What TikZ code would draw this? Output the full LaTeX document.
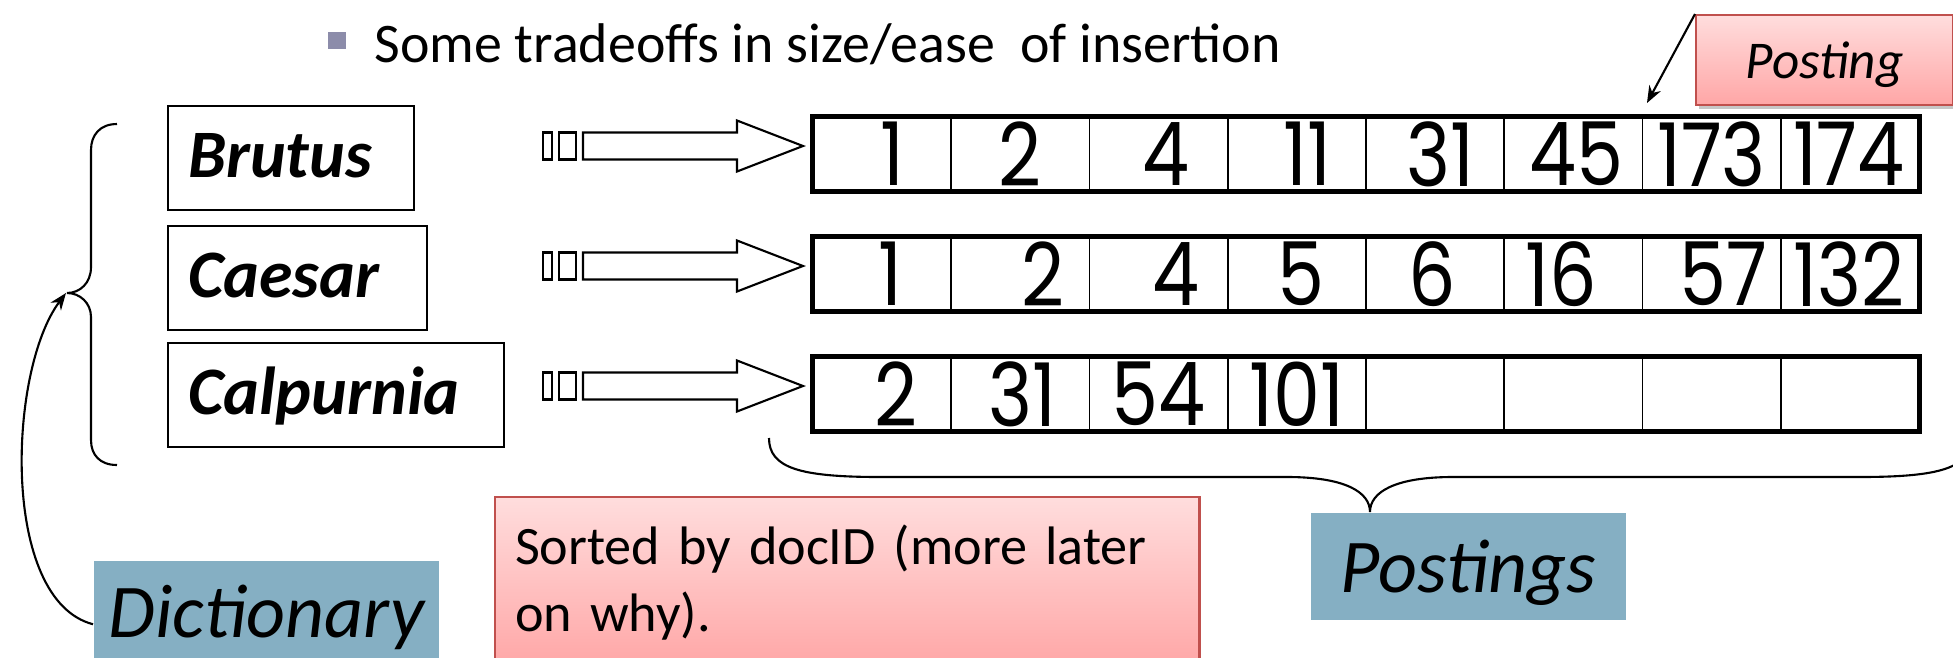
\documentclass[tikz,border=0pt]{standalone}
\usepackage{fontspec}
\setmainfont{Carlito}
\newfontfamily\numfont[FakeStretch=0.85]{Poppins}
\usetikzlibrary{arrows.meta,shadows}

\definecolor{bulletgray}{HTML}{8C8CAA}
\definecolor{labelblue}{HTML}{85AFC3}
\definecolor{notered}{HTML}{C0504D}
\definecolor{notetop}{HTML}{FFDDDD}
\definecolor{notebot}{HTML}{FFA6A6}

\tikzset{
  term/.style={draw, line width=0.6pt, anchor=north west, inner xsep=0.2cm, inner ysep=0pt,
    align=left, text height=0.71cm, text depth=0.33cm, font=\fontsize{19.3}{23}\selectfont\bfseries\itshape},
  cell/.style={draw, line width=0.45pt, minimum width=1.3825cm, minimum height=0.74cm, inner sep=0pt},
  num/.style={inner sep=0pt, font=\numfont\fontsize{25}{26}\selectfont},
  note/.style={draw=notered, line width=0.6pt, top color=notetop, bottom color=notebot},
  tag/.style={fill=labelblue, inner sep=0pt, anchor=north west, font=\fontsize{21.6}{24}\selectfont\itshape},
  ptr/.style={line width=0.6pt, -{Stealth[length=0.17cm, width=0.13cm]}},
  curly/.style={line width=0.6pt},
  hollow/.style={draw, line width=0.6pt, fill=white}
}

% hollow arrow from a term to its postings, #1 = height of its axis
\newcommand{\docarrow}[1]{%
  \draw[hollow] (543,#1-13.5) rectangle (552,#1+13.5);
  \draw[hollow] (559,#1-13.5) rectangle (576,#1+13.5);
  \draw[hollow] (583,#1-13.5) -- (737,#1-13.5) -- (737,#1-25.5) -- (803,#1)
    -- (737,#1+25.5) -- (737,#1+13.5) -- (583,#1+13.5) -- cycle;}

\begin{document}
\begin{tikzpicture}[x=0.01cm, y=-0.01cm]
  \useasboundingbox (0,0) rectangle (1953,657);

  % Heading
  \node[fill=bulletgray, minimum size=0.17cm, inner sep=0pt] (bul) at (337,40) {};
  \node[anchor=base west, inner sep=0pt, font=\fontsize{15.9}{19}\selectfont] (title) at (374,62)
    {Some tradeoffs in size/ease\ \ of insertion};

  % Dictionary terms
  \node[term, text width=2.06cm] (brutus) at (167,105) {Brutus};
  \node[term, text width=2.19cm] (caesar) at (167,225) {Caesar};
  \node[term, text width=2.96cm] (calpurnia) at (167,342) {Calpurnia};

  % Pointers
  \docarrow{146}
  \docarrow{266}
  \docarrow{386}

  % Postings lists
  \foreach \row/\y/\vals in {bp/154/{1/10,2/0,4/7,11/11,31/5,45/3,173/0,174/-1},
                            cp/274/{1/8,2/23,4/17,5/4,6/-3,16/-12,57/12,132/-1},
                            lp/394/{2/14,31/2,54/0,101/0,/0,/0,/0,/0}} {
    \foreach \v/\dx [count=\i] in \vals {
      \node[cell] (\row\i) at ({813+138.25*(\i-0.5)},\y) {};
      \node[num] (v\row\i) at ([xshift=\dx*0.01cm]\row\i.center) {\v};
    }
    \draw[line width=1.5pt] (\row1.north west) rectangle (\row8.south east);
  }

  % Braces
  \draw[curly] (117,124) .. controls (100,124) and (91,135) .. (91,150) -- (91,267)
    .. controls (91,283) and (80,293) .. (67,293) .. controls (80,293) and (91,303) .. (91,317)
    -- (91,440) .. controls (91,455) and (100,465) .. (117,465);
  \coordinate (dtip) at (66,293);
  \draw[curly] (769,438) .. controls (769,468) and (800,477) .. (880,477) -- (1287,477)
    .. controls (1345,477) and (1370,492) .. (1370,512) .. controls (1370,492) and (1395,477) .. (1453,477)
    -- (1860,477) .. controls (1940,477) and (1971,468) .. (1971,438);

  % Labels
  \node[note, drop shadow={shadow xshift=0.03cm, shadow yshift=-0.04cm, fill=black!22, opacity=1},
    anchor=north west, minimum width=2.57cm, inner ysep=0pt, text height=0.63cm, text depth=0.27cm,
    font=\fontsize{15.1}{18}\selectfont\itshape] (postlbl) at (1695,14) {Posting};
  \coordinate (posttip) at (1647,103);
  \draw[ptr] (postlbl.north west) -- (posttip);

  \node[note, anchor=north west, text width=6.64cm, inner xsep=0.2cm, inner ysep=0pt,
    minimum height=1.71cm, align=left, font=\fontsize{15.4}{19}\selectfont] (sorted) at (494,496)
    {Sorted by docID (more later\\on why).};

  \node[tag, minimum width=3.45cm, text height=0.77cm, text depth=0.5cm] (dict) at (93,560) {Dictionary};
  \node[tag, minimum width=3.15cm, text height=0.8cm, text depth=0.27cm] (plbl) at (1310,512) {Postings};

  \draw[ptr] (dict.west) .. controls (0,600) and (8,370) .. (dtip);
\end{tikzpicture}
\end{document}
